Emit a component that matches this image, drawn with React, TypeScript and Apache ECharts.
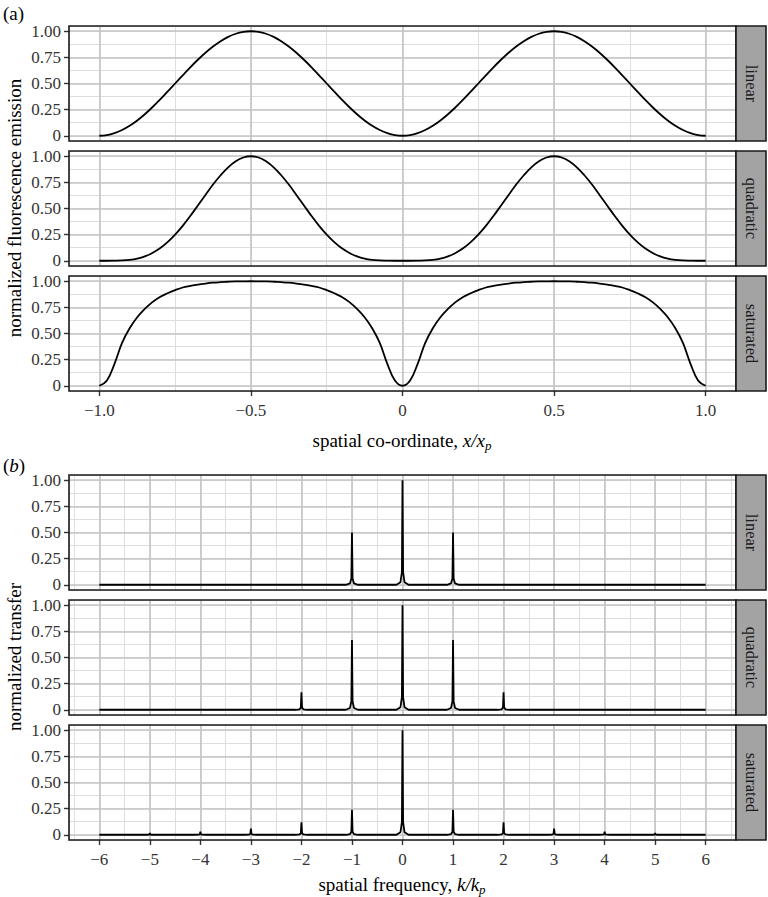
import React, { useEffect, useRef } from 'react';
import * as echarts from 'echarts';

// ---------- DATA ----------
const xSpatial = [
  -1, -0.975, -0.95, -0.925, -0.9, -0.875, -0.85, -0.825, -0.8, -0.775, -0.75, -0.725, -0.7, -0.675, -0.65, -0.625, -0.6, -0.575, -0.55, -0.525,
  -0.5, -0.475, -0.45, -0.425, -0.4, -0.375, -0.35, -0.325, -0.3, -0.275, -0.25, -0.225, -0.2, -0.175, -0.15, -0.125, -0.1, -0.075, -0.05, -0.025,
  0, 0.025, 0.05, 0.075, 0.1, 0.125, 0.15, 0.175, 0.2, 0.225, 0.25, 0.275, 0.3, 0.325, 0.35, 0.375, 0.4, 0.425, 0.45, 0.475,
  0.5, 0.525, 0.55, 0.575, 0.6, 0.625, 0.65, 0.675, 0.7, 0.725, 0.75, 0.775, 0.8, 0.825, 0.85, 0.875, 0.9, 0.925, 0.95, 0.975, 1,
];

const emissionLinear = [
  0, 0.006, 0.025, 0.055, 0.095, 0.146, 0.206, 0.273, 0.345, 0.422, 0.5, 0.578, 0.655, 0.727, 0.794, 0.854, 0.905, 0.946, 0.976, 0.994,
  1, 0.994, 0.976, 0.946, 0.905, 0.854, 0.794, 0.727, 0.655, 0.578, 0.5, 0.422, 0.345, 0.273, 0.206, 0.146, 0.095, 0.055, 0.025, 0.006,
  0, 0.006, 0.025, 0.055, 0.095, 0.146, 0.206, 0.273, 0.345, 0.422, 0.5, 0.578, 0.655, 0.727, 0.794, 0.854, 0.905, 0.946, 0.976, 0.994,
  1, 0.994, 0.976, 0.946, 0.905, 0.854, 0.794, 0.727, 0.655, 0.578, 0.5, 0.422, 0.345, 0.273, 0.206, 0.146, 0.095, 0.055, 0.025, 0.006, 0,
];

const emissionQuadratic = [
  0, 0, 0.001, 0.003, 0.009, 0.021, 0.042, 0.075, 0.119, 0.178, 0.25, 0.334, 0.428, 0.529, 0.63, 0.729, 0.818, 0.894, 0.952, 0.988,
  1, 0.988, 0.952, 0.894, 0.818, 0.729, 0.63, 0.529, 0.428, 0.334, 0.25, 0.178, 0.119, 0.075, 0.042, 0.021, 0.009, 0.003, 0.001, 0,
  0, 0, 0.001, 0.003, 0.009, 0.021, 0.042, 0.075, 0.119, 0.178, 0.25, 0.334, 0.428, 0.529, 0.63, 0.729, 0.818, 0.894, 0.952, 0.988,
  1, 0.988, 0.952, 0.894, 0.818, 0.729, 0.63, 0.529, 0.428, 0.334, 0.25, 0.178, 0.119, 0.075, 0.042, 0.021, 0.009, 0.003, 0.001, 0, 0,
];

const emissionSaturated = [
  0, 0.05, 0.21, 0.41, 0.55, 0.655, 0.735, 0.8, 0.85, 0.885, 0.915, 0.94, 0.955, 0.968, 0.978, 0.986, 0.991, 0.995, 0.998, 0.999,
  1, 0.999, 0.998, 0.995, 0.991, 0.986, 0.978, 0.968, 0.955, 0.94, 0.915, 0.885, 0.85, 0.8, 0.735, 0.655, 0.55, 0.41, 0.21, 0.05,
  0, 0.05, 0.21, 0.41, 0.55, 0.655, 0.735, 0.8, 0.85, 0.885, 0.915, 0.94, 0.955, 0.968, 0.978, 0.986, 0.991, 0.995, 0.998, 0.999,
  1, 0.999, 0.998, 0.995, 0.991, 0.986, 0.978, 0.968, 0.955, 0.94, 0.915, 0.885, 0.85, 0.8, 0.735, 0.655, 0.55, 0.41, 0.21, 0.05, 0,
];

const freqRange = [-6, 6];
const transferLinearK = [-1, 0, 1];
const transferLinearH = [0.5, 1, 0.5];
const transferQuadraticK = [-2, -1, 0, 1, 2];
const transferQuadraticH = [0.167, 0.667, 1, 0.667, 0.167];
const transferSaturatedK = [-5, -4, -3, -2, -1, 0, 1, 2, 3, 4, 5];
const transferSaturatedH = [0.015, 0.03, 0.06, 0.12, 0.24, 1, 0.24, 0.12, 0.06, 0.03, 0.015];

const stripLabels = ['linear', 'quadratic', 'saturated'];
const yTicks = [0, 0.25, 0.5, 0.75, 1];
const xTicksA = [-1, -0.5, 0, 0.5, 1];
const xTicksB = [-6, -5, -4, -3, -2, -1, 0, 1, 2, 3, 4, 5, 6];

// ---------- STYLE / LAYOUT ----------
const FONT = 'Liberation Serif, Times New Roman, serif';
const GRID_LEFT = 69;
const GRID_W = 667;
const PANEL_H = 115;
const STRIP_W = 30;
const TOPS = [26, 151, 276, 475, 600, 725];
// narrow peak profile (shape of a single spectral line)
const PEAK_OFFSETS = [-0.12, -0.04, -0.012, 0, 0.012, 0.04, 0.12];
const PEAK_SHAPE = [0, 0.025, 0.12, 1, 0.12, 0.025, 0];

function spectrum(ks: number[], hs: number[]) {
  const pts: number[][] = [[freqRange[0], 0]];
  ks.forEach((k, i) => {
    PEAK_OFFSETS.forEach((o, j) => pts.push([k + o, hs[i] * PEAK_SHAPE[j]]));
  });
  pts.push([freqRange[1], 0]);
  return pts;
}

const fmtA = (v: number) => {
  if (Math.abs(v) < 1e-9) return '0';
  const s = Math.abs(v).toFixed(1);
  return v < 0 ? '\u2212' + s : s;
};
const fmtB = (v: number) => (v < 0 ? '\u2212' + Math.abs(v) : String(v));
const fmtY = (v: number) => (Math.abs(v) < 1e-9 ? '0' : v.toFixed(2));

export default function App() {
  const ref = useRef<HTMLDivElement>(null);
  useEffect(() => {
    if (!ref.current) return;
    const chart = echarts.init(ref.current, undefined, { renderer: 'svg' });

    const panels = [
      { data: xSpatial.map((x, i) => [x, emissionLinear[i]]), part: 'a', bottom: false },
      { data: xSpatial.map((x, i) => [x, emissionQuadratic[i]]), part: 'a', bottom: false },
      { data: xSpatial.map((x, i) => [x, emissionSaturated[i]]), part: 'a', bottom: true },
      { data: spectrum(transferLinearK, transferLinearH), part: 'b', bottom: false },
      { data: spectrum(transferQuadraticK, transferQuadraticH), part: 'b', bottom: false },
      { data: spectrum(transferSaturatedK, transferSaturatedH), part: 'b', bottom: true },
    ];

    const grids: any[] = [];
    const xAxes: any[] = [];
    const yAxes: any[] = [];
    const series: any[] = [];
    const graphics: any[] = [];

    const majorLine = { show: true, lineStyle: { color: '#c4c4c4', width: 1.6 } };
    const minorLine = { show: true, lineStyle: { color: '#dedede', width: 1 } };
    const tickStyle = { color: '#333', width: 1.4 };
    const labelStyle = { fontFamily: FONT, fontSize: 17, color: '#333' };
    const noLine = { show: false, onZero: false };

    panels.forEach((p, i) => {
      const top = TOPS[i];
      grids.push({ left: GRID_LEFT, top, width: GRID_W, height: PANEL_H, outerBoundsMode: 'none', containLabel: false });
      const isA = p.part === 'a';
      const xmin = isA ? -1.1 : -6.6;
      const xmax = isA ? 1.1 : 6.6;
      const xMajor = isA ? 0.5 : 1;
      const xMinor = isA ? 0.25 : 0.5;
      const xt = isA ? xTicksA : xTicksB;
      xAxes.push({
        type: 'value', gridIndex: i, min: xmin, max: xmax, minInterval: xMajor, maxInterval: xMajor,
        position: 'bottom', z: 1,
        axisLine: noLine,
        axisTick: { show: p.bottom, customValues: xt, length: 5, lineStyle: tickStyle },
        axisLabel: { show: p.bottom, customValues: xt, formatter: isA ? fmtA : fmtB, margin: 11, ...labelStyle },
        splitLine: majorLine,
      });
      xAxes.push({
        type: 'value', gridIndex: i, min: xmin, max: xmax, minInterval: xMinor, maxInterval: xMinor,
        position: 'top', z: 0,
        axisLine: noLine, axisTick: { show: false }, axisLabel: { show: false },
        splitLine: minorLine,
      });
      yAxes.push({
        type: 'value', gridIndex: i, min: -0.05, max: 1.05, minInterval: 0.25, maxInterval: 0.25,
        position: 'left', z: 1,
        axisLine: noLine,
        axisTick: { show: true, customValues: yTicks, length: 5, lineStyle: tickStyle },
        axisLabel: { show: true, customValues: yTicks, formatter: fmtY, margin: 8, ...labelStyle },
        splitLine: majorLine,
      });
      yAxes.push({
        type: 'value', gridIndex: i, min: -0.05, max: 1.05, minInterval: 0.125, maxInterval: 0.125,
        position: 'right', z: 0,
        axisLine: noLine, axisTick: { show: false }, axisLabel: { show: false },
        splitLine: minorLine,
      });
      series.push({
        type: 'line', xAxisIndex: 2 * i, yAxisIndex: 2 * i, data: p.data,
        showSymbol: false, symbol: 'none', smooth: isA ? 0.4 : false,
        lineStyle: { color: '#000', width: 1.8 }, z: 3, silent: true,
      });
      graphics.push({
        type: 'rect', z: 100, silent: true,
        shape: { x: GRID_LEFT, y: top, width: GRID_W, height: PANEL_H },
        style: { fill: 'none', stroke: '#1a1a1a', lineWidth: 1.6 },
      });
      graphics.push({
        type: 'rect', z: 100, silent: true,
        shape: { x: GRID_LEFT + GRID_W, y: top, width: STRIP_W, height: PANEL_H },
        style: { fill: '#a3a3a3', stroke: '#1a1a1a', lineWidth: 1.6 },
      });
      graphics.push({
        type: 'text', z: 101, silent: true,
        x: GRID_LEFT + GRID_W + STRIP_W / 2, y: top + PANEL_H / 2, rotation: -Math.PI / 2,
        style: { text: stripLabels[i % 3], align: 'center', verticalAlign: 'middle', fontFamily: FONT, fontSize: 16.5, fill: '#1a1a1a' },
      });
    });

    const titleRich = {
      n: { fontFamily: FONT, fontSize: 19, fill: '#000', lineHeight: 24 },
      i: { fontFamily: FONT, fontSize: 19, fontStyle: 'italic', fill: '#000', lineHeight: 24 },
      s: { fontFamily: FONT, fontSize: 13, fontStyle: 'italic', fill: '#000', lineHeight: 13, verticalAlign: 'bottom' },
    };

    graphics.push(
      {
        type: 'text', x: 3, y: 13, silent: true,
        style: { text: '(a)', align: 'left', verticalAlign: 'middle', fontFamily: FONT, fontSize: 19, fill: '#000' },
      },
      {
        type: 'text', x: 3, y: 465, silent: true,
        style: { text: '{n|(}{i|b}{n|)}', rich: titleRich, align: 'left', verticalAlign: 'middle' },
      },
      {
        type: 'text', x: 14, y: 208, rotation: Math.PI / 2, silent: true,
        style: { text: 'normalized fluorescence emission', align: 'center', verticalAlign: 'middle', fontFamily: FONT, fontSize: 19, fill: '#000' },
      },
      {
        type: 'text', x: 14, y: 657, rotation: Math.PI / 2, silent: true,
        style: { text: 'normalized transfer', align: 'center', verticalAlign: 'middle', fontFamily: FONT, fontSize: 19, fill: '#000' },
      },
      {
        type: 'text', x: 402, y: 440, silent: true,
        style: { text: '{n|spatial co-ordinate, }{i|x/x}{s|p}', rich: titleRich, align: 'center', verticalAlign: 'middle' },
      },
      {
        type: 'text', x: 402, y: 884, silent: true,
        style: { text: '{n|spatial frequency, }{i|k/k}{s|p}', rich: titleRich, align: 'center', verticalAlign: 'middle' },
      },
    );

    chart.setOption({
      animation: false,
      backgroundColor: '#fff',
      textStyle: { fontFamily: FONT },
      grid: grids,
      xAxis: xAxes,
      yAxis: yAxes,
      series,
      graphic: { elements: graphics },
    });

    return () => chart.dispose();
  }, []);

  return <div ref={ref} style={{ position: 'absolute', left: 0, top: 0, width: 768, height: 897 }} />;
}
